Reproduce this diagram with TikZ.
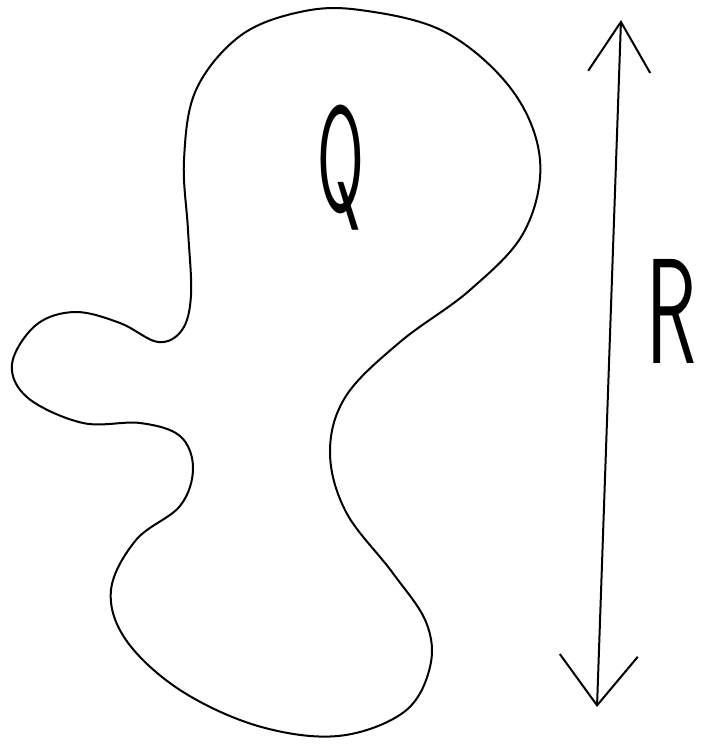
\documentclass[tikz,border=0pt]{standalone}
\usepackage{tikz}
\usetikzlibrary{arrows.meta}

\begin{document}
\begin{tikzpicture}[x=1pt,y=-1pt,
  sketch/.style={line width=2pt,line cap=round,line join=round},
  letter/.style={font=\sffamily\fontsize{150}{150}\selectfont,inner sep=0pt}]
\useasboundingbox (0,0) rectangle (704,744);
% the region Q
\draw[sketch] plot[smooth cycle,tension=0.6] coordinates {
  (360,10) (445,32) (512,90) (540,160) (524,232) (470,290) (400,342)
  (346,396) (330,452) (346,512) (392,572) (426,622) (430,667) (404,712)
  (338,736) (258,726) (180,690) (126,640) (111,590) (136,540) (180,506)
  (193,468) (180,436) (140,423) (83,423) (28,398) (12,364) (36,325)
  (75,312) (120,323) (158,342) (182,330) (191,295) (188,230) (184,160)
  (196,90) (240,36) (300,12)};
\node[letter,xscale=0.45] (q) at (341,168) {Q};
% the size R
\coordinate (rtop) at (621,20);
\coordinate (rbot) at (597,707);
\draw[sketch,{Straight Barb[length=50pt,width=62pt]}-{Straight Barb[length=50pt,width=78pt]}] (rtop) -- (rbot);
\node[letter,xscale=0.55] (r) at (671,311) {R};
\end{tikzpicture}
\end{document}
